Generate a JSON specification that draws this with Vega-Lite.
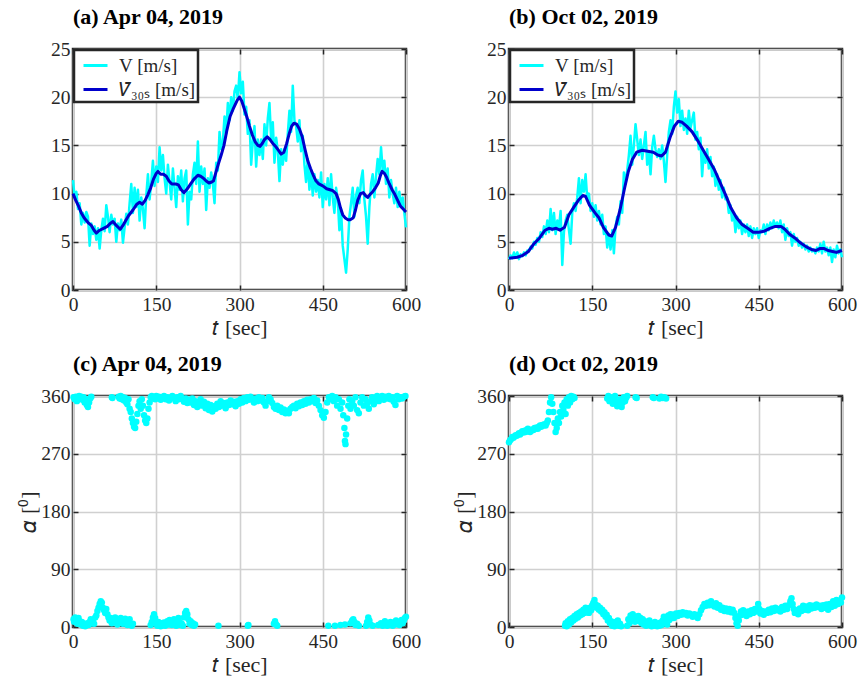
{
  "$schema": "https://vega.github.io/schema/vega-lite/v6.json",
  "background": "white",
  "padding": {"left": 16, "top": 4, "right": 0, "bottom": 0},
  "bounds": "flush",
  "columns": 2,
  "spacing": {"row": 106, "column": 103},
  "resolve": {"scale": {"color": "independent"}, "legend": {"color": "independent"}},
  "config": {
    "font": "Liberation Serif",
    "view": {"stroke": "#262626", "strokeWidth": 2.5},
    "axis": {
      "labelFont": "Liberation Serif", "labelFontSize": 19.5, "labelColor": "#262626",
      "titleFont": "Liberation Serif", "titleFontSize": 22, "titleFontWeight": "normal", "titleColor": "#262626",
      "domain": false, "tickSize": -5, "tickWidth": 1.5, "tickColor": "#262626",
      "gridColor": "#d0d0d0", "gridWidth": 1.6, "gridOpacity": 1,
      "labelFlush": false, "labelOverlap": false, "labelBound": false
    },
    "axisBottom": {"labelPadding": 10.3, "titlePadding": 4},
    "axisLeft": {"labelPadding": 8, "titlePadding": 0},
    "legend": {
      "strokeColor": "#262626", "strokeWidth": 2.5, "fillColor": "white", "padding": 2, "offset": 1,
      "labelFont": "Liberation Serif", "labelFontSize": 19, "labelColor": "#262626", "labelAlign": "left",
      "symbolType": "stroke", "symbolSize": 576, "symbolStrokeWidth": 3, "symbolOffset": 6,
      "labelOffset": 10, "rowPadding": 0
    },
    "title": {"anchor": "start", "frame": "group", "font": "Liberation Serif", "fontSize": 22, "fontWeight": "bold", "color": "#000000", "baseline": "alphabetic", "offset": 10}
  },
  "datasets": {
    "a_V": [
      {"t":0,"v":11.4},{"t":3,"v":9.6},{"t":6,"v":10.2},{"t":9,"v":8.4},{"t":12,"v":9.0},{"t":15,"v":6.8},{"t":18,"v":8.0},{"t":21,"v":7.0},{"t":24,"v":8.1},{"t":27,"v":7.6},
      {"t":30,"v":4.6},{"t":33,"v":6.9},{"t":36,"v":5.8},{"t":39,"v":6.6},{"t":42,"v":5.2},{"t":45,"v":6.4},{"t":48,"v":4.3},{"t":51,"v":6.2},{"t":54,"v":7.4},{"t":57,"v":6.1},
      {"t":60,"v":8.8},{"t":63,"v":7.6},{"t":66,"v":6.0},{"t":69,"v":7.8},{"t":72,"v":6.8},{"t":75,"v":7.4},{"t":78,"v":5.0},{"t":81,"v":6.9},{"t":84,"v":6.2},{"t":87,"v":7.3},
      {"t":90,"v":4.9},{"t":93,"v":6.5},{"t":96,"v":7.9},{"t":99,"v":6.8},{"t":102,"v":9.0},{"t":105,"v":11.0},{"t":108,"v":8.0},{"t":111,"v":10.6},{"t":114,"v":8.6},{"t":117,"v":10.4},
      {"t":120,"v":7.2},{"t":123,"v":9.6},{"t":126,"v":8.4},{"t":129,"v":6.4},{"t":132,"v":9.8},{"t":135,"v":12.0},{"t":138,"v":9.4},{"t":141,"v":11.2},{"t":144,"v":13.4},{"t":147,"v":10.8},
      {"t":150,"v":12.8},{"t":153,"v":11.2},{"t":156,"v":14.8},{"t":159,"v":12.4},{"t":162,"v":14.0},{"t":165,"v":11.6},{"t":168,"v":10.0},{"t":171,"v":13.0},{"t":174,"v":11.2},{"t":177,"v":9.4},
      {"t":180,"v":12.6},{"t":183,"v":10.6},{"t":186,"v":8.6},{"t":189,"v":11.8},{"t":192,"v":10.4},{"t":195,"v":12.4},{"t":198,"v":9.2},{"t":201,"v":11.6},{"t":204,"v":12.4},{"t":207,"v":6.8},
      {"t":210,"v":10.2},{"t":213,"v":9.4},{"t":216,"v":12.0},{"t":219,"v":13.2},{"t":222,"v":11.0},{"t":225,"v":15.4},{"t":228,"v":10.2},{"t":231,"v":12.8},{"t":234,"v":11.0},{"t":237,"v":12.6},
      {"t":240,"v":8.3},{"t":243,"v":11.6},{"t":246,"v":10.6},{"t":249,"v":12.2},{"t":252,"v":11.0},{"t":255,"v":9.0},{"t":258,"v":13.2},{"t":261,"v":12.4},{"t":264,"v":16.4},{"t":267,"v":14.6},
      {"t":270,"v":15.4},{"t":273,"v":18.0},{"t":276,"v":16.2},{"t":279,"v":19.4},{"t":282,"v":17.6},{"t":285,"v":20.0},{"t":288,"v":18.6},{"t":291,"v":20.6},{"t":294,"v":21.2},{"t":297,"v":19.8},
      {"t":300,"v":22.6},{"t":303,"v":20.4},{"t":306,"v":21.6},{"t":309,"v":18.2},{"t":312,"v":19.0},{"t":315,"v":16.2},{"t":318,"v":17.6},{"t":321,"v":13.0},{"t":324,"v":15.4},{"t":327,"v":17.0},
      {"t":330,"v":12.8},{"t":333,"v":15.6},{"t":336,"v":14.0},{"t":339,"v":15.6},{"t":342,"v":13.6},{"t":345,"v":17.2},{"t":348,"v":15.0},{"t":351,"v":17.8},{"t":354,"v":19.4},{"t":357,"v":15.6},
      {"t":360,"v":17.4},{"t":363,"v":13.2},{"t":366,"v":15.8},{"t":369,"v":14.4},{"t":372,"v":11.3},{"t":375,"v":14.6},{"t":378,"v":13.0},{"t":381,"v":14.6},{"t":384,"v":13.4},{"t":387,"v":16.2},
      {"t":390,"v":18.6},{"t":393,"v":16.4},{"t":396,"v":21.2},{"t":399,"v":17.6},{"t":402,"v":17.0},{"t":405,"v":15.4},{"t":408,"v":17.6},{"t":411,"v":14.4},{"t":414,"v":16.0},{"t":417,"v":13.0},
      {"t":420,"v":11.2},{"t":423,"v":13.6},{"t":426,"v":10.4},{"t":429,"v":12.4},{"t":432,"v":9.8},{"t":435,"v":12.0},{"t":438,"v":10.2},{"t":441,"v":11.4},{"t":444,"v":9.6},{"t":447,"v":12.2},
      {"t":450,"v":8.6},{"t":453,"v":11.0},{"t":456,"v":9.4},{"t":459,"v":11.6},{"t":462,"v":8.8},{"t":465,"v":12.0},{"t":468,"v":9.6},{"t":471,"v":8.0},{"t":474,"v":10.6},{"t":477,"v":9.4},
      {"t":480,"v":6.2},{"t":483,"v":8.4},{"t":486,"v":4.6},{"t":489,"v":3.2},{"t":492,"v":1.8},{"t":495,"v":4.2},{"t":498,"v":7.6},{"t":501,"v":9.0},{"t":504,"v":10.6},{"t":507,"v":7.6},
      {"t":510,"v":9.8},{"t":513,"v":10.6},{"t":516,"v":9.0},{"t":519,"v":11.4},{"t":522,"v":12.4},{"t":525,"v":9.4},{"t":528,"v":7.6},{"t":531,"v":4.8},{"t":534,"v":8.6},{"t":537,"v":11.0},
      {"t":540,"v":12.0},{"t":543,"v":9.6},{"t":546,"v":11.8},{"t":549,"v":13.6},{"t":552,"v":12.0},{"t":555,"v":14.8},{"t":558,"v":12.4},{"t":561,"v":13.4},{"t":564,"v":11.0},{"t":567,"v":12.6},
      {"t":570,"v":9.6},{"t":573,"v":11.4},{"t":576,"v":10.0},{"t":579,"v":9.0},{"t":582,"v":10.6},{"t":585,"v":8.6},{"t":588,"v":10.2},{"t":591,"v":8.8},{"t":594,"v":9.6},{"t":597,"v":8.0},
      {"t":600,"v":6.5}
    ],
    "a_M": [
      {"t":0,"v":10.0},{"t":5,"v":9.3},{"t":10,"v":8.7},{"t":15,"v":8.0},{"t":20,"v":7.5},{"t":27,"v":7.0},{"t":33,"v":6.7},{"t":38,"v":6.2},{"t":42,"v":5.9},{"t":48,"v":6.2},
      {"t":55,"v":6.4},{"t":62,"v":6.6},{"t":67,"v":6.9},{"t":72,"v":7.1},{"t":78,"v":6.7},{"t":85,"v":6.3},{"t":90,"v":6.7},{"t":95,"v":7.2},{"t":100,"v":7.7},{"t":108,"v":8.3},
      {"t":115,"v":8.9},{"t":120,"v":9.1},{"t":125,"v":8.9},{"t":130,"v":9.3},{"t":135,"v":9.9},{"t":140,"v":10.6},{"t":145,"v":11.5},{"t":150,"v":12.1},{"t":153,"v":12.3},{"t":158,"v":12.0},
      {"t":163,"v":12.0},{"t":168,"v":11.8},{"t":173,"v":11.3},{"t":178,"v":11.0},{"t":185,"v":11.0},{"t":190,"v":10.9},{"t":195,"v":10.4},{"t":200,"v":10.1},{"t":206,"v":10.5},{"t":212,"v":11.0},
      {"t":218,"v":11.5},{"t":225,"v":11.9},{"t":230,"v":11.8},{"t":235,"v":11.6},{"t":240,"v":11.3},{"t":245,"v":11.1},{"t":250,"v":11.2},{"t":253,"v":11.3},{"t":258,"v":12.3},{"t":262,"v":13.1},
      {"t":267,"v":14.0},{"t":272,"v":15.0},{"t":277,"v":16.5},{"t":283,"v":18.0},{"t":288,"v":18.7},{"t":292,"v":19.2},{"t":296,"v":19.7},{"t":300,"v":20.0},{"t":304,"v":19.6},{"t":308,"v":18.9},
      {"t":313,"v":18.0},{"t":318,"v":17.0},{"t":323,"v":16.1},{"t":328,"v":15.4},{"t":333,"v":15.0},{"t":337,"v":14.9},{"t":341,"v":15.2},{"t":345,"v":15.6},{"t":350,"v":15.9},{"t":355,"v":15.6},
      {"t":360,"v":15.2},{"t":365,"v":14.9},{"t":370,"v":14.5},{"t":375,"v":14.1},{"t":380,"v":14.3},{"t":385,"v":15.2},{"t":390,"v":16.3},{"t":394,"v":17.0},{"t":398,"v":17.3},{"t":403,"v":17.2},
      {"t":408,"v":16.7},{"t":413,"v":15.9},{"t":418,"v":14.6},{"t":423,"v":13.4},{"t":428,"v":12.6},{"t":433,"v":11.9},{"t":438,"v":11.3},{"t":443,"v":11.0},{"t":450,"v":10.8},{"t":457,"v":10.5},
      {"t":463,"v":10.4},{"t":468,"v":10.3},{"t":474,"v":10.0},{"t":478,"v":9.4},{"t":482,"v":8.5},{"t":486,"v":7.8},{"t":490,"v":7.5},{"t":495,"v":7.3},{"t":500,"v":7.3},{"t":505,"v":7.5},
      {"t":509,"v":8.3},{"t":513,"v":9.3},{"t":518,"v":10.0},{"t":523,"v":10.1},{"t":527,"v":9.8},{"t":531,"v":9.6},{"t":535,"v":9.9},{"t":540,"v":10.2},{"t":545,"v":10.6},{"t":550,"v":11.1},
      {"t":554,"v":11.9},{"t":557,"v":12.3},{"t":561,"v":12.1},{"t":565,"v":11.7},{"t":570,"v":11.0},{"t":575,"v":10.4},{"t":580,"v":9.9},{"t":585,"v":9.3},{"t":590,"v":8.7},{"t":595,"v":8.4},
      {"t":600,"v":8.1}
    ],
    "b_V": [
      {"t":0,"v":3.2},{"t":3,"v":3.6},{"t":6,"v":3.3},{"t":9,"v":3.9},{"t":12,"v":3.4},{"t":15,"v":3.9},{"t":18,"v":3.2},{"t":21,"v":3.7},{"t":24,"v":3.5},{"t":27,"v":3.9},
      {"t":30,"v":3.6},{"t":33,"v":4.1},{"t":36,"v":4.0},{"t":39,"v":4.5},{"t":42,"v":4.3},{"t":45,"v":5.0},{"t":48,"v":4.7},{"t":51,"v":5.4},{"t":54,"v":5.0},{"t":57,"v":6.0},
      {"t":60,"v":5.5},{"t":63,"v":6.6},{"t":66,"v":5.8},{"t":69,"v":7.2},{"t":72,"v":6.0},{"t":75,"v":8.4},{"t":78,"v":6.2},{"t":81,"v":8.0},{"t":84,"v":5.8},{"t":87,"v":7.2},
      {"t":90,"v":6.4},{"t":93,"v":8.2},{"t":96,"v":2.6},{"t":99,"v":6.0},{"t":102,"v":7.2},{"t":105,"v":7.8},{"t":108,"v":6.2},{"t":111,"v":4.8},{"t":114,"v":8.0},{"t":117,"v":9.0},
      {"t":120,"v":8.2},{"t":123,"v":9.6},{"t":126,"v":11.6},{"t":129,"v":9.0},{"t":132,"v":11.4},{"t":135,"v":10.2},{"t":138,"v":12.0},{"t":141,"v":9.4},{"t":144,"v":10.0},{"t":147,"v":8.2},
      {"t":150,"v":9.0},{"t":153,"v":7.6},{"t":156,"v":8.8},{"t":159,"v":7.2},{"t":162,"v":8.2},{"t":165,"v":6.8},{"t":168,"v":7.8},{"t":171,"v":5.8},{"t":174,"v":6.6},{"t":177,"v":4.4},
      {"t":180,"v":5.8},{"t":183,"v":4.2},{"t":186,"v":6.2},{"t":189,"v":3.8},{"t":192,"v":6.6},{"t":195,"v":7.6},{"t":198,"v":6.8},{"t":201,"v":9.2},{"t":204,"v":8.0},{"t":207,"v":12.2},
      {"t":210,"v":11.0},{"t":213,"v":12.4},{"t":216,"v":14.0},{"t":219,"v":16.0},{"t":222,"v":13.0},{"t":225,"v":15.0},{"t":228,"v":17.2},{"t":231,"v":15.6},{"t":234,"v":14.0},{"t":237,"v":15.6},
      {"t":240,"v":13.6},{"t":243,"v":15.0},{"t":246,"v":16.4},{"t":249,"v":13.0},{"t":252,"v":14.4},{"t":255,"v":12.0},{"t":258,"v":14.8},{"t":261,"v":16.0},{"t":264,"v":14.6},{"t":267,"v":13.8},
      {"t":270,"v":14.6},{"t":273,"v":13.6},{"t":276,"v":15.0},{"t":279,"v":13.4},{"t":282,"v":11.2},{"t":285,"v":14.0},{"t":288,"v":16.4},{"t":291,"v":17.6},{"t":294,"v":16.2},{"t":297,"v":19.0},
      {"t":300,"v":20.6},{"t":303,"v":18.4},{"t":306,"v":19.8},{"t":309,"v":17.0},{"t":312,"v":18.6},{"t":315,"v":16.6},{"t":318,"v":17.8},{"t":321,"v":16.2},{"t":324,"v":18.6},{"t":327,"v":16.8},
      {"t":330,"v":17.6},{"t":333,"v":18.4},{"t":336,"v":15.6},{"t":339,"v":16.4},{"t":342,"v":14.6},{"t":345,"v":15.8},{"t":348,"v":11.8},{"t":351,"v":14.4},{"t":354,"v":13.2},{"t":357,"v":14.6},
      {"t":360,"v":12.6},{"t":363,"v":13.8},{"t":366,"v":11.8},{"t":369,"v":12.8},{"t":372,"v":10.8},{"t":375,"v":12.0},{"t":378,"v":10.4},{"t":381,"v":11.4},{"t":384,"v":9.6},{"t":387,"v":10.6},
      {"t":390,"v":9.4},{"t":393,"v":9.6},{"t":396,"v":8.0},{"t":399,"v":8.8},{"t":402,"v":7.2},{"t":405,"v":8.0},{"t":408,"v":6.0},{"t":411,"v":7.6},{"t":414,"v":6.4},{"t":417,"v":7.2},
      {"t":420,"v":5.8},{"t":423,"v":6.8},{"t":426,"v":6.0},{"t":429,"v":6.8},{"t":432,"v":5.6},{"t":435,"v":6.6},{"t":438,"v":5.4},{"t":441,"v":6.4},{"t":444,"v":5.8},{"t":447,"v":6.4},
      {"t":450,"v":5.4},{"t":453,"v":6.2},{"t":456,"v":6.0},{"t":459,"v":6.8},{"t":462,"v":5.8},{"t":465,"v":6.8},{"t":468,"v":6.2},{"t":471,"v":7.0},{"t":474,"v":6.4},{"t":477,"v":7.2},
      {"t":480,"v":6.6},{"t":483,"v":7.0},{"t":486,"v":6.4},{"t":489,"v":7.2},{"t":492,"v":6.0},{"t":495,"v":6.8},{"t":498,"v":5.2},{"t":501,"v":6.4},{"t":504,"v":5.6},{"t":507,"v":6.0},
      {"t":510,"v":4.6},{"t":513,"v":5.8},{"t":516,"v":5.0},{"t":519,"v":5.4},{"t":522,"v":4.6},{"t":525,"v":5.0},{"t":528,"v":4.4},{"t":531,"v":4.8},{"t":534,"v":4.2},{"t":537,"v":4.6},
      {"t":540,"v":4.0},{"t":543,"v":4.4},{"t":546,"v":4.0},{"t":549,"v":4.2},{"t":552,"v":3.8},{"t":555,"v":4.4},{"t":558,"v":4.0},{"t":561,"v":4.8},{"t":564,"v":3.8},{"t":567,"v":5.0},
      {"t":570,"v":4.0},{"t":573,"v":4.4},{"t":576,"v":3.6},{"t":579,"v":4.4},{"t":582,"v":2.9},{"t":585,"v":4.2},{"t":588,"v":3.4},{"t":591,"v":4.6},{"t":594,"v":3.8},{"t":597,"v":4.2},
      {"t":600,"v":3.4}
    ],
    "b_M": [
      {"t":0,"v":3.3},{"t":15,"v":3.4},{"t":25,"v":3.6},{"t":35,"v":4.0},{"t":45,"v":4.8},{"t":55,"v":5.4},{"t":65,"v":6.2},{"t":72,"v":6.4},{"t":78,"v":6.3},{"t":85,"v":6.4},
      {"t":92,"v":6.2},{"t":100,"v":6.5},{"t":108,"v":7.8},{"t":118,"v":8.7},{"t":125,"v":9.3},{"t":133,"v":9.8},{"t":138,"v":9.7},{"t":145,"v":8.8},{"t":155,"v":8.0},{"t":162,"v":7.5},
      {"t":170,"v":6.5},{"t":180,"v":5.7},{"t":185,"v":5.6},{"t":192,"v":6.5},{"t":200,"v":8.3},{"t":208,"v":10.5},{"t":215,"v":12.3},{"t":222,"v":13.5},{"t":230,"v":14.3},{"t":240,"v":14.5},
      {"t":250,"v":14.4},{"t":260,"v":14.3},{"t":268,"v":14.0},{"t":275,"v":13.9},{"t":282,"v":14.3},{"t":290,"v":15.8},{"t":298,"v":17.0},{"t":305,"v":17.5},{"t":312,"v":17.4},{"t":320,"v":17.0},
      {"t":330,"v":16.4},{"t":340,"v":15.5},{"t":350,"v":14.5},{"t":360,"v":13.5},{"t":370,"v":12.5},{"t":380,"v":11.2},{"t":390,"v":9.9},{"t":400,"v":8.5},{"t":410,"v":7.5},{"t":420,"v":6.8},
      {"t":430,"v":6.4},{"t":440,"v":6.0},{"t":450,"v":6.0},{"t":460,"v":6.1},{"t":470,"v":6.4},{"t":480,"v":6.6},{"t":490,"v":6.6},{"t":497,"v":6.3},{"t":505,"v":5.8},{"t":515,"v":5.4},
      {"t":525,"v":4.9},{"t":535,"v":4.5},{"t":545,"v":4.2},{"t":553,"v":4.1},{"t":560,"v":4.3},{"t":568,"v":4.3},{"t":575,"v":4.1},{"t":583,"v":4.0},{"t":590,"v":3.9},{"t":600,"v":4.1}
    ],
    "c_hi": [
      {"t":1,"a":358},{"t":3,"a":355},{"t":5,"a":359},{"t":7,"a":352},{"t":9,"a":357},{"t":11,"a":360},{"t":13,"a":356},{"t":15,"a":359},{"t":17,"a":354},{"t":19,"a":358},
      {"t":21,"a":350},{"t":23,"a":355},{"t":25,"a":346},{"t":27,"a":343},{"t":29,"a":350},{"t":31,"a":356},{"t":33,"a":359},{"t":70,"a":358},{"t":71,"a":357},
      {"t":82,"a":359},{"t":84,"a":356},{"t":86,"a":360},{"t":88,"a":355},{"t":90,"a":358},{"t":92,"a":353},{"t":94,"a":357},{"t":96,"a":350},
      {"t":98,"a":347},{"t":100,"a":355},{"t":102,"a":340},{"t":104,"a":335},{"t":106,"a":325},{"t":108,"a":318},{"t":110,"a":312},{"t":112,"a":310},{"t":114,"a":320},{"t":116,"a":332},
      {"t":118,"a":345},{"t":120,"a":352},{"t":122,"a":340},{"t":124,"a":355},{"t":126,"a":345},{"t":128,"a":330},{"t":130,"a":322},{"t":132,"a":318},{"t":134,"a":325},{"t":136,"a":340},
      {"t":138,"a":350},{"t":140,"a":358},{"t":142,"a":360},{"t":144,"a":356},
      {"t":146,"a":358},{"t":148,"a":355},{"t":150,"a":360},{"t":152,"a":357},{"t":155,"a":359},{"t":158,"a":354},{"t":161,"a":358},{"t":164,"a":360},{"t":167,"a":355},{"t":170,"a":358},
      {"t":173,"a":353},{"t":176,"a":357},{"t":179,"a":360},{"t":182,"a":356},{"t":185,"a":352},{"t":188,"a":358},{"t":191,"a":355},{"t":194,"a":360},{"t":197,"a":356},{"t":200,"a":351},
      {"t":203,"a":356},{"t":206,"a":349},{"t":209,"a":354},
      {"t":212,"a":350},{"t":215,"a":356},{"t":218,"a":346},{"t":221,"a":352},{"t":224,"a":343},{"t":227,"a":350},{"t":230,"a":355},{"t":233,"a":345},{"t":236,"a":351},{"t":239,"a":341},
      {"t":242,"a":348},{"t":245,"a":338},{"t":248,"a":346},{"t":251,"a":336},{"t":254,"a":344},{"t":257,"a":340},{"t":260,"a":348},{"t":263,"a":343},{"t":266,"a":352},{"t":269,"a":345},
      {"t":272,"a":349},{"t":275,"a":341},{"t":278,"a":350},{"t":281,"a":346},{"t":284,"a":353},{"t":287,"a":347},{"t":290,"a":351},{"t":293,"a":344},{"t":296,"a":352},{"t":299,"a":348},
      {"t":302,"a":355},{"t":305,"a":350},{"t":308,"a":357},{"t":311,"a":352},{"t":314,"a":358},{"t":317,"a":354},{"t":320,"a":359},{"t":323,"a":355},
      {"t":326,"a":350},{"t":329,"a":356},{"t":332,"a":352},{"t":335,"a":358},{"t":338,"a":353},{"t":341,"a":357},{"t":344,"a":350},{"t":347,"a":345},{"t":350,"a":352},{"t":353,"a":358},
      {"t":356,"a":355},{"t":359,"a":349},{"t":362,"a":343},{"t":365,"a":340},{"t":368,"a":345},{"t":371,"a":338},{"t":374,"a":342},{"t":377,"a":335},{"t":380,"a":339},{"t":383,"a":333},
      {"t":386,"a":337},{"t":389,"a":333},{"t":392,"a":340},{"t":395,"a":343},
      {"t":398,"a":345},{"t":401,"a":341},{"t":404,"a":348},{"t":407,"a":344},{"t":410,"a":350},{"t":413,"a":346},{"t":416,"a":352},{"t":419,"a":348},{"t":422,"a":354},{"t":425,"a":350},
      {"t":428,"a":355},{"t":431,"a":352},{"t":434,"a":357},{"t":437,"a":349},{"t":440,"a":353},{"t":443,"a":345},{"t":446,"a":338},{"t":449,"a":330},{"t":452,"a":326},{"t":455,"a":335},
      {"t":458,"a":350},{"t":461,"a":358},
      {"t":464,"a":355},{"t":467,"a":360},{"t":470,"a":352},{"t":473,"a":358},{"t":476,"a":345},{"t":479,"a":355},{"t":482,"a":340},{"t":485,"a":350},{"t":487,"a":330},{"t":489,"a":310},
      {"t":490,"a":290},{"t":491,"a":285},{"t":492,"a":300},{"t":494,"a":325},{"t":496,"a":345},{"t":498,"a":355},{"t":500,"a":340},{"t":503,"a":352},
      {"t":506,"a":345},{"t":509,"a":358},{"t":512,"a":338},{"t":515,"a":333},{"t":518,"a":350},{"t":521,"a":358},{"t":524,"a":345},{"t":527,"a":355},{"t":530,"a":348},{"t":533,"a":340},
      {"t":536,"a":352},{"t":539,"a":358},{"t":542,"a":347},{"t":545,"a":354},{"t":548,"a":360},{"t":551,"a":352},{"t":554,"a":357},
      {"t":557,"a":360},{"t":560,"a":354},{"t":563,"a":359},{"t":566,"a":356},{"t":569,"a":360},{"t":572,"a":355},{"t":575,"a":358},{"t":578,"a":351},{"t":581,"a":346},{"t":584,"a":360},
      {"t":587,"a":355},{"t":590,"a":358},{"t":593,"a":356},{"t":596,"a":359},{"t":599,"a":360}
    ],
    "c_lo": [
      {"t":1,"a":12},{"t":2,"a":8},{"t":4,"a":15},{"t":6,"a":10},{"t":8,"a":5},{"t":10,"a":14},{"t":12,"a":9},{"t":14,"a":4},{"t":16,"a":8},{"t":18,"a":2},
      {"t":20,"a":5},{"t":22,"a":1},{"t":24,"a":3},{"t":26,"a":6},{"t":28,"a":3},{"t":30,"a":8},{"t":32,"a":12},{"t":34,"a":6},
      {"t":36,"a":10},{"t":38,"a":5},{"t":40,"a":15},{"t":42,"a":18},{"t":44,"a":25},{"t":46,"a":30},{"t":48,"a":36},{"t":50,"a":40},{"t":52,"a":38},{"t":54,"a":30},
      {"t":56,"a":26},{"t":58,"a":22},{"t":60,"a":28},{"t":62,"a":20},{"t":64,"a":15},
      {"t":66,"a":10},{"t":68,"a":14},{"t":70,"a":6},{"t":72,"a":12},{"t":74,"a":8},{"t":76,"a":15},{"t":78,"a":10},{"t":80,"a":4},{"t":82,"a":12},{"t":84,"a":7},
      {"t":86,"a":14},{"t":88,"a":9},{"t":90,"a":5},{"t":92,"a":11},{"t":94,"a":13},{"t":96,"a":6},{"t":98,"a":3},{"t":100,"a":8},{"t":102,"a":12},{"t":104,"a":4},
      {"t":106,"a":2},{"t":108,"a":5},
      {"t":140,"a":3},{"t":142,"a":8},{"t":144,"a":15},{"t":146,"a":20},{"t":148,"a":14},{"t":150,"a":5},{"t":152,"a":2},{"t":154,"a":8},{"t":156,"a":4},{"t":158,"a":1},
      {"t":160,"a":6},{"t":162,"a":3},{"t":164,"a":7},{"t":166,"a":2},{"t":168,"a":5},{"t":170,"a":9},{"t":172,"a":4},{"t":174,"a":11},{"t":176,"a":6},{"t":178,"a":3},
      {"t":180,"a":8},{"t":182,"a":12},{"t":184,"a":6},{"t":186,"a":2},{"t":188,"a":10},{"t":190,"a":14},{"t":192,"a":8},{"t":194,"a":3},{"t":196,"a":5},{"t":198,"a":2},
      {"t":200,"a":15},{"t":202,"a":22},{"t":204,"a":25},{"t":206,"a":20},{"t":208,"a":12},{"t":210,"a":5},{"t":212,"a":9},{"t":214,"a":3},{"t":216,"a":6},{"t":218,"a":2},
      {"t":220,"a":4},{"t":262,"a":2},{"t":315,"a":2},{"t":316,"a":3},{"t":362,"a":5},{"t":364,"a":9},{"t":366,"a":4},{"t":368,"a":2},
      {"t":460,"a":2},{"t":472,"a":2},{"t":482,"a":3},{"t":490,"a":4},{"t":500,"a":6},{"t":503,"a":10},{"t":505,"a":12},{"t":507,"a":8},{"t":509,"a":3},{"t":512,"a":5},
      {"t":515,"a":2},{"t":528,"a":2},{"t":530,"a":8},{"t":532,"a":15},{"t":534,"a":10},{"t":536,"a":4},{"t":540,"a":2},{"t":550,"a":3},{"t":555,"a":6},{"t":558,"a":2},
      {"t":560,"a":4},{"t":562,"a":9},{"t":564,"a":5},{"t":566,"a":2},{"t":568,"a":6},{"t":570,"a":3},{"t":572,"a":8},{"t":574,"a":4},{"t":576,"a":2},{"t":578,"a":7},
      {"t":580,"a":4},{"t":582,"a":10},{"t":584,"a":5},{"t":586,"a":8},{"t":588,"a":3},{"t":590,"a":7},{"t":592,"a":11},{"t":594,"a":6},{"t":596,"a":10},{"t":598,"a":14},
      {"t":600,"a":16}
    ],
    "d_hi": [
      {"t":0,"a":288},{"t":2,"a":291},{"t":4,"a":293},{"t":6,"a":296},{"t":8,"a":295},{"t":10,"a":297},{"t":12,"a":299},{"t":14,"a":298},{"t":16,"a":300},{"t":18,"a":302},
      {"t":20,"a":300},{"t":22,"a":303},{"t":24,"a":305},{"t":26,"a":303},{"t":28,"a":306},{"t":30,"a":304},{"t":32,"a":307},{"t":34,"a":309},{"t":36,"a":305},{"t":38,"a":304},
      {"t":40,"a":306},{"t":42,"a":308},{"t":44,"a":307},{"t":46,"a":310},{"t":48,"a":309},{"t":50,"a":311},{"t":52,"a":309},{"t":54,"a":312},{"t":56,"a":314},{"t":58,"a":312},
      {"t":60,"a":315},{"t":62,"a":314},{"t":64,"a":316},{"t":66,"a":314},{"t":68,"a":318},{"t":70,"a":322},{"t":72,"a":335},{"t":74,"a":350},{"t":76,"a":358},{"t":78,"a":348},
      {"t":80,"a":335},{"t":82,"a":318},{"t":84,"a":304},{"t":86,"a":310},{"t":88,"a":325},{"t":90,"a":318},{"t":92,"a":335},{"t":94,"a":328},{"t":96,"a":345},{"t":98,"a":338},
      {"t":100,"a":350},{"t":102,"a":332},{"t":104,"a":355},{"t":106,"a":345},{"t":108,"a":358},{"t":110,"a":350},{"t":112,"a":360},{"t":114,"a":355},{"t":116,"a":359},{"t":118,"a":357},
      {"t":177,"a":356},{"t":179,"a":360},{"t":181,"a":352},{"t":183,"a":358},{"t":185,"a":355},{"t":187,"a":348},{"t":189,"a":356},{"t":191,"a":360},{"t":193,"a":350},{"t":195,"a":344},
      {"t":197,"a":352},{"t":199,"a":346},{"t":201,"a":355},{"t":203,"a":343},{"t":205,"a":350},{"t":207,"a":358},{"t":209,"a":352},{"t":211,"a":357},{"t":213,"a":360},{"t":228,"a":358},
      {"t":230,"a":357},{"t":259,"a":358},{"t":261,"a":357},{"t":271,"a":356},{"t":274,"a":359},{"t":277,"a":357},{"t":280,"a":358},{"t":283,"a":356}
    ],
    "d_lo": [
      {"t":101,"a":2},{"t":102,"a":6},{"t":104,"a":1},{"t":106,"a":9},{"t":108,"a":4},{"t":110,"a":12},{"t":112,"a":7},{"t":114,"a":14},{"t":116,"a":10},{"t":118,"a":17},
      {"t":120,"a":13},{"t":122,"a":20},{"t":124,"a":15},{"t":126,"a":22},{"t":128,"a":18},{"t":130,"a":24},{"t":132,"a":20},{"t":134,"a":27},{"t":136,"a":22},{"t":138,"a":30},
      {"t":140,"a":25},{"t":142,"a":28},{"t":144,"a":22},{"t":146,"a":30},{"t":148,"a":26},{"t":150,"a":34},{"t":152,"a":38},{"t":154,"a":42},{"t":156,"a":35},{"t":158,"a":30},
      {"t":160,"a":33},{"t":162,"a":27},{"t":164,"a":30},{"t":166,"a":24},{"t":168,"a":27},{"t":170,"a":20},{"t":172,"a":23},{"t":174,"a":16},{"t":176,"a":19},{"t":178,"a":10},
      {"t":180,"a":14},{"t":182,"a":6},{"t":184,"a":9},{"t":186,"a":2},{"t":188,"a":5},{"t":190,"a":1},{"t":192,"a":8},{"t":194,"a":3},{"t":196,"a":10},{"t":198,"a":2},
      {"t":200,"a":5},{"t":202,"a":1},
      {"t":213,"a":2},{"t":215,"a":12},{"t":217,"a":6},{"t":219,"a":18},{"t":221,"a":10},{"t":223,"a":20},{"t":225,"a":14},{"t":227,"a":8},{"t":229,"a":16},{"t":231,"a":11},
      {"t":233,"a":17},{"t":235,"a":9},{"t":237,"a":14},{"t":239,"a":6},{"t":241,"a":12},{"t":243,"a":4},{"t":245,"a":9},{"t":247,"a":2},{"t":249,"a":7},{"t":251,"a":3},
      {"t":253,"a":10},{"t":255,"a":5},{"t":257,"a":1},{"t":259,"a":6},{"t":261,"a":2},{"t":263,"a":8},{"t":265,"a":3},{"t":267,"a":1},{"t":269,"a":5},{"t":271,"a":2},
      {"t":273,"a":7},{"t":275,"a":3},{"t":277,"a":10},{"t":279,"a":16},{"t":281,"a":8},{"t":283,"a":14},{"t":285,"a":4},{"t":287,"a":18},{"t":289,"a":11},{"t":291,"a":20},
      {"t":293,"a":15},{"t":295,"a":19},{"t":297,"a":14},{"t":299,"a":18},{"t":301,"a":21},{"t":304,"a":17},{"t":307,"a":22},{"t":310,"a":19},{"t":313,"a":23},{"t":316,"a":20},
      {"t":319,"a":22},{"t":322,"a":18},{"t":325,"a":21},{"t":328,"a":19},{"t":331,"a":16},{"t":334,"a":20},{"t":337,"a":18},{"t":340,"a":14},{"t":343,"a":20},{"t":346,"a":26},
      {"t":349,"a":31},{"t":352,"a":36},{"t":355,"a":33},{"t":358,"a":38},{"t":361,"a":34},{"t":364,"a":40},{"t":367,"a":35},{"t":370,"a":32},{"t":373,"a":37},{"t":376,"a":30},
      {"t":379,"a":34},{"t":382,"a":27},{"t":385,"a":30},{"t":388,"a":25},{"t":391,"a":29},{"t":394,"a":24},{"t":397,"a":28},{"t":400,"a":23},{"t":403,"a":27},{"t":406,"a":22},
      {"t":408,"a":14},{"t":410,"a":6},{"t":412,"a":2},{"t":414,"a":10},{"t":416,"a":18},{"t":418,"a":24},{"t":420,"a":19},{"t":422,"a":26},{"t":425,"a":21},{"t":428,"a":17},
      {"t":431,"a":24},{"t":434,"a":20},{"t":437,"a":26},{"t":440,"a":22},{"t":443,"a":28},{"t":446,"a":24},{"t":449,"a":36},{"t":451,"a":28},{"t":453,"a":21},{"t":456,"a":25},
      {"t":459,"a":19},{"t":462,"a":24},{"t":465,"a":22},{"t":468,"a":27},{"t":471,"a":23},{"t":474,"a":29},{"t":477,"a":25},{"t":480,"a":30},{"t":483,"a":26},{"t":486,"a":28},
      {"t":489,"a":24},{"t":492,"a":31},{"t":495,"a":27},{"t":498,"a":33},{"t":501,"a":28},{"t":504,"a":34},{"t":507,"a":40},{"t":509,"a":45},{"t":511,"a":36},{"t":513,"a":28},
      {"t":515,"a":22},{"t":518,"a":26},{"t":521,"a":20},{"t":524,"a":29},{"t":527,"a":25},{"t":530,"a":33},{"t":533,"a":27},{"t":536,"a":32},{"t":539,"a":26},{"t":542,"a":34},
      {"t":545,"a":29},{"t":548,"a":33},{"t":551,"a":30},{"t":554,"a":35},{"t":557,"a":31},{"t":560,"a":33},{"t":563,"a":28},{"t":566,"a":34},{"t":569,"a":30},{"t":572,"a":35},
      {"t":575,"a":27},{"t":578,"a":36},{"t":581,"a":31},{"t":584,"a":40},{"t":587,"a":33},{"t":590,"a":42},{"t":593,"a":36},{"t":596,"a":41},{"t":598,"a":38},{"t":600,"a":46}
    ]
  },
  "concat": [
    {
      "width": 333, "height": 241,
      "title": {"text": "(a) Apr 04, 2019"},
      "resolve": {"axis": {"x": "independent", "y": "independent"}},
      "layer": [
        {
          "data": {"name": "a_V"},
          "mark": {"type": "line", "strokeWidth": 2.5, "strokeJoin": "round"},
          "encoding": {
            "x": {"field": "t", "type": "quantitative", "scale": {"domain": [0, 600], "nice": false}, "axis": {"orient": "bottom", "values": [0, 150, 300, 450, 600], "title": "𝑡 [sec]", "grid": true}},
            "y": {"field": "v", "type": "quantitative", "scale": {"domain": [0, 25], "nice": false}, "axis": {"orient": "left", "values": [0, 5, 10, 15, 20, 25], "title": null, "grid": true}},
            "color": {"datum": "V [m/s]", "type": "nominal", "scale": {"domain": ["V [m/s]", "𝑉̄₃₀ₛ [m/s]"], "range": ["#00FFFF", "#0000CC"]}, "legend": {"orient": "top-left", "title": null}}
          }
        },
        {
          "data": {"name": "a_M"},
          "mark": {"type": "line", "strokeWidth": 3, "strokeJoin": "round"},
          "encoding": {
            "x": {"field": "t", "type": "quantitative", "axis": {"orient": "top", "values": [0, 150, 300, 450, 600], "labels": false, "title": null, "grid": false}},
            "y": {"field": "v", "type": "quantitative", "axis": {"orient": "right", "values": [0, 5, 10, 15, 20, 25], "labels": false, "title": null, "grid": false}},
            "color": {"datum": "𝑉̄₃₀ₛ [m/s]", "type": "nominal"}
          }
        }
      ]
    },
    {
      "width": 333, "height": 241,
      "title": {"text": "(b) Oct 02, 2019"},
      "resolve": {"axis": {"x": "independent", "y": "independent"}},
      "layer": [
        {
          "data": {"name": "b_V"},
          "mark": {"type": "line", "strokeWidth": 2.5, "strokeJoin": "round"},
          "encoding": {
            "x": {"field": "t", "type": "quantitative", "scale": {"domain": [0, 600], "nice": false}, "axis": {"orient": "bottom", "values": [0, 150, 300, 450, 600], "title": "𝑡 [sec]", "grid": true}},
            "y": {"field": "v", "type": "quantitative", "scale": {"domain": [0, 25], "nice": false}, "axis": {"orient": "left", "values": [0, 5, 10, 15, 20, 25], "title": null, "grid": true}},
            "color": {"datum": "V [m/s]", "type": "nominal", "scale": {"domain": ["V [m/s]", "𝑉̄₃₀ₛ [m/s]"], "range": ["#00FFFF", "#0000CC"]}, "legend": {"orient": "top-left", "title": null}}
          }
        },
        {
          "data": {"name": "b_M"},
          "mark": {"type": "line", "strokeWidth": 3, "strokeJoin": "round"},
          "encoding": {
            "x": {"field": "t", "type": "quantitative", "axis": {"orient": "top", "values": [0, 150, 300, 450, 600], "labels": false, "title": null, "grid": false}},
            "y": {"field": "v", "type": "quantitative", "axis": {"orient": "right", "values": [0, 5, 10, 15, 20, 25], "labels": false, "title": null, "grid": false}},
            "color": {"datum": "𝑉̄₃₀ₛ [m/s]", "type": "nominal"}
          }
        }
      ]
    },
    {
      "width": 333, "height": 231,
      "title": {"text": "(c) Apr 04, 2019"},
      "resolve": {"axis": {"x": "independent", "y": "independent"}},
      "layer": [
        {
          "data": {"name": "c_hi"},
          "mark": {"type": "circle", "size": 42, "opacity": 1, "color": "#00FFFF"},
          "encoding": {
            "x": {"field": "t", "type": "quantitative", "scale": {"domain": [0, 600], "nice": false}, "axis": {"orient": "bottom", "values": [0, 150, 300, 450, 600], "title": "𝑡 [sec]", "grid": true}},
            "y": {"field": "a", "type": "quantitative", "scale": {"domain": [0, 360], "nice": false}, "axis": {"orient": "left", "values": [0, 90, 180, 270, 360], "title": "𝛼 [⁰]", "grid": true}}
          }
        },
        {
          "data": {"name": "c_lo"},
          "mark": {"type": "circle", "size": 42, "opacity": 1, "color": "#00FFFF"},
          "encoding": {
            "x": {"field": "t", "type": "quantitative", "axis": {"orient": "top", "values": [0, 150, 300, 450, 600], "labels": false, "title": null, "grid": false}},
            "y": {"field": "a", "type": "quantitative", "axis": {"orient": "right", "values": [0, 90, 180, 270, 360], "labels": false, "title": null, "grid": false}}
          }
        }
      ]
    },
    {
      "width": 333, "height": 231,
      "title": {"text": "(d) Oct 02, 2019"},
      "resolve": {"axis": {"x": "independent", "y": "independent"}},
      "layer": [
        {
          "data": {"name": "d_hi"},
          "mark": {"type": "circle", "size": 42, "opacity": 1, "color": "#00FFFF"},
          "encoding": {
            "x": {"field": "t", "type": "quantitative", "scale": {"domain": [0, 600], "nice": false}, "axis": {"orient": "bottom", "values": [0, 150, 300, 450, 600], "title": "𝑡 [sec]", "grid": true}},
            "y": {"field": "a", "type": "quantitative", "scale": {"domain": [0, 360], "nice": false}, "axis": {"orient": "left", "values": [0, 90, 180, 270, 360], "title": "𝛼 [⁰]", "grid": true}}
          }
        },
        {
          "data": {"name": "d_lo"},
          "mark": {"type": "circle", "size": 42, "opacity": 1, "color": "#00FFFF"},
          "encoding": {
            "x": {"field": "t", "type": "quantitative", "axis": {"orient": "top", "values": [0, 150, 300, 450, 600], "labels": false, "title": null, "grid": false}},
            "y": {"field": "a", "type": "quantitative", "axis": {"orient": "right", "values": [0, 90, 180, 270, 360], "labels": false, "title": null, "grid": false}}
          }
        }
      ]
    }
  ]
}
